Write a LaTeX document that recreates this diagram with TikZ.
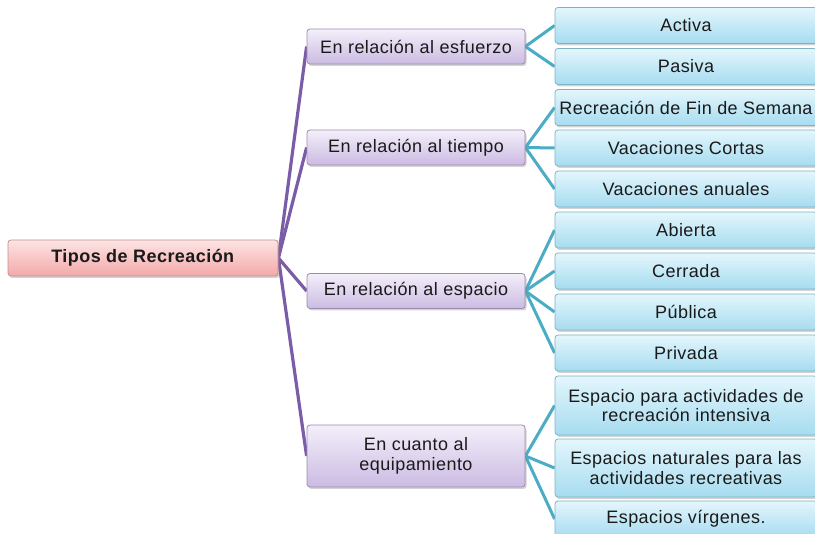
\documentclass[tikz,border=0pt]{standalone}
\usepackage{fontspec}
\setmainfont[LetterSpace=2.5]{Liberation Sans}
\usetikzlibrary{shadows,backgrounds}
\definecolor{rootTop}{HTML}{FDE4E4}
\definecolor{rootBot}{HTML}{F4A8A8}
\definecolor{rootLine}{HTML}{C39090}
\definecolor{oneTop}{HTML}{F4EFFA}
\definecolor{oneBot}{HTML}{CBBBE2}
\definecolor{oneLine}{HTML}{9C8CB0}
\definecolor{twoTop}{HTML}{E4F6FC}
\definecolor{twoBot}{HTML}{A6DCF0}
\definecolor{twoLine}{HTML}{80B2C6}
\definecolor{purpleLink}{HTML}{7B5CA6}
\definecolor{tealLink}{HTML}{4AADC5}
\definecolor{txt}{HTML}{1A1A1A}
\tikzset{
  boxbase/.style={rounded corners=3pt, inner sep=0pt, align=center,
    font=\fontsize{18}{19.5}\selectfont, text=txt, line width=0.8pt,
    drop shadow={shadow xshift=1.5pt, shadow yshift=-2pt, opacity=0.35}},
  rootbox/.style={boxbase, draw=rootLine, top color=rootTop, bottom color=rootBot,
    minimum width=270pt, minimum height=36pt},
  onebox/.style={boxbase, draw=oneLine, top color=oneTop, bottom color=oneBot,
    minimum width=218pt, minimum height=35pt},
  twobox/.style={boxbase, draw=twoLine, top color=twoTop, bottom color=twoBot,
    minimum width=262pt, minimum height=36pt},
  plink/.style={draw=purpleLink, line width=3.2pt},
  tlink/.style={draw=tealLink, line width=3pt}
}
\begin{document}
\begin{tikzpicture}[x=1pt,y=-1pt]
\useasboundingbox (0,0) rectangle (815,534);
\node[rootbox] (root) at (143,258) {\textbf{Tipos de Recreación}};
\node[onebox] (esf) at (416,46.5) {En relación al esfuerzo};
\node[onebox] (tie) at (416,147.5) {En relación al tiempo};
\node[onebox] (esp) at (416,291) {En relación al espacio};
\node[onebox, minimum height=62pt] (equ) at (416,456) {En cuanto al\\equipamiento};
\node[twobox] (act) at (686,25.5) {Activa};
\node[twobox] (pas) at (686,66.5) {Pasiva};
\node[twobox] (fin) at (686,107.5) {Recreación de Fin de Semana};
\node[twobox] (cor) at (686,148) {Vacaciones Cortas};
\node[twobox] (anu) at (686,189) {Vacaciones anuales};
\node[twobox] (abi) at (686,230) {Abierta};
\node[twobox] (cer) at (686,271) {Cerrada};
\node[twobox] (pub) at (686,312) {Pública};
\node[twobox] (pri) at (686,353) {Privada};
\node[twobox, minimum height=59pt] (int) at (686,405.5) {Espacio para actividades de\\recreación intensiva};
\node[twobox, minimum height=58pt] (nat) at (686,468) {Espacios naturales para las\\actividades recreativas};
\node[twobox] (vir) at (686,519) {Espacios vírgenes.};
\begin{scope}[on background layer]
\foreach \c in {esf,tie,esp,equ}
  \draw[plink] (root.east) -- (\c.west);
\foreach \c in {act,pas} \draw[tlink] (esf.east) -- (\c.west);
\foreach \c in {fin,cor,anu} \draw[tlink] (tie.east) -- (\c.west);
\foreach \c in {abi,cer,pub,pri} \draw[tlink] (esp.east) -- (\c.west);
\foreach \c in {int,nat,vir} \draw[tlink] (equ.east) -- (\c.west);
\end{scope}
\end{tikzpicture}
\end{document}
